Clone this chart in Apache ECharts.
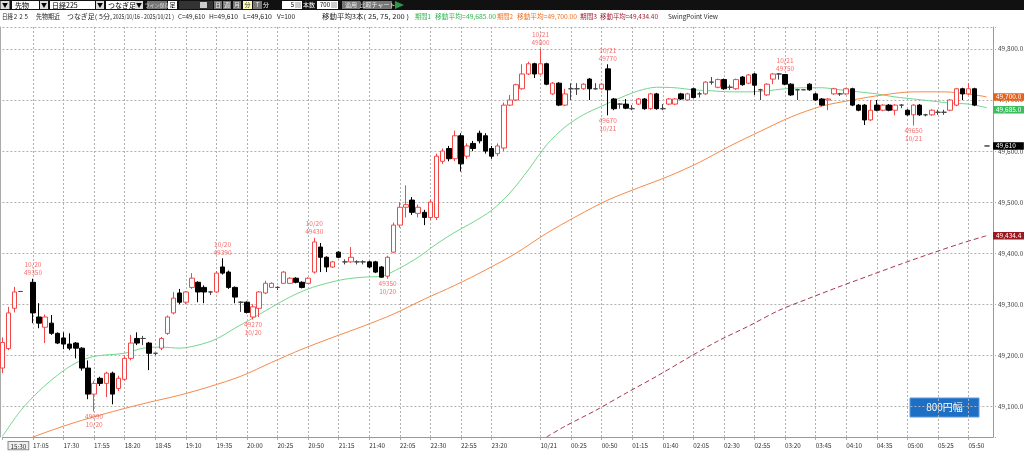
<!DOCTYPE html>
<html><head><meta charset="utf-8">
<script src="https://cdn.jsdelivr.net/npm/echarts@6/dist/echarts.min.js"></script>
<style>html,body{margin:0;padding:0;background:#fff}#c{width:1024px;height:453px}</style>
</head><body><div id="c"></div><script>
// ---------- DATA ----------
const opens = [49175,49213,49292,49325,null,49343,49275,49255,49263,49243,
49234,49222,49224,49214,49175,49124,49155,49145,49165,49135,
49153,49194,49233,49233,49224,49204,49214,49243,49283,49322,
49304,49333,49343,49333,49324,49324,49373,49363,49333,49304,
49304,49275,49292,49322,49333,49333,49341,49341,49351,49343,
49341,49363,49412,49392,49373,49402,49383,49383,49383,49383,
49383,49383,49373,49355,49402,49455,49490,49504,49478,49480,
49470,49470,49580,49605,49585,49630,49590,49615,49635,49630,
49605,49595,49606,49690,49700,49722,49751,49771,49751,49771,
49712,49733,49690,49722,49722,49722,49741,49722,49722,49761,
49702,49692,49692,49683,49692,49702,49683,49712,49683,49692,
49692,49712,49700,49722,49712,49712,49735,49725,49740,49725,
49722,49745,49733,49751,49720,49710,49741,49751,49750,49731,
49720,49720,49731,49712,49702,49700,49712,49712,49712,49722,
49690,49690,49661,49690,49680,49690,49680,49690,49680,49671,
49690,49671,49671,49676,49676,49680,49690,49722,49712,49722,
null,49610,null];
const closes = [49225,49283,49324,49325,null,49283,49263,49275,49243,49224,
49222,49214,49214,49175,49124,49145,49145,49165,49124,49155,
49194,49224,49224,49233,49204,49204,49233,49275,49312,49304,
49324,49351,49324,49324,49324,49361,49361,49333,49314,49304,
49284,49295,49324,49341,49341,49333,49363,49351,49343,49333,
49351,49422,49392,49373,49383,49392,49383,49392,49383,49383,
49373,49363,49353,49392,49455,49490,49495,49480,49490,49470,
49500,49590,49600,49585,49630,49575,49610,49605,49620,49600,
49590,49610,49690,49700,49730,49751,49771,49751,49771,49731,
49733,49690,49712,49722,49722,49731,49722,49722,49731,49720,
49683,49692,49684,49683,49702,49683,49712,49683,49683,49702,
49702,49702,49712,49705,49712,49735,49735,49740,49722,49725,
49740,49730,49749,49729,49720,49731,49751,49751,49731,49710,
49720,49720,49720,49700,49690,49702,49722,49712,49722,49690,
49680,49661,49680,49680,49690,49680,49690,49690,49671,49690,
49671,49671,49680,49676,49676,49700,49722,49712,49722,49690,
null,49610,null];
const lows = [49165,49210,49284,49325,null,49263,49253,49224,49240,49222,
49212,49210,49194,49170,49114,49090,49140,49118,49104,49130,
49150,49190,49220,49220,49171,49200,49210,49240,49280,49300,
49300,49330,49304,49302,49318,49322,49358,49330,49302,49285,
49282,49270,49275,49320,49332,49328,49340,49340,49341,49331,
49340,49360,49363,49363,49371,49390,49378,49381,49378,49378,
49371,49361,49352,49350,49400,49450,49470,49475,49470,49455,
49465,49465,49575,49580,49580,49560,49585,49600,49615,49595,
49585,49590,49600,49688,49698,49720,49749,49743,49750,49729,
49710,49688,49688,49700,49710,49720,49700,49720,49720,49670,
49680,49683,49682,49680,49690,49681,49681,49681,49680,49690,
49690,49700,49698,49703,49705,49710,49730,49723,49720,49720,
49720,49728,49731,49710,49700,49708,49731,49740,49729,49708,
49700,49720,49718,49698,49688,49680,49710,49708,49710,49688,
49678,49651,49659,49678,49678,49678,49670,49684,49669,49650,
49669,49668,49669,49671,49671,49678,49688,49700,49710,49688,
null,49610,null];
const highs = [49235,49295,49334,49325,null,49350,49302,49280,49279,49245,
49245,49243,49226,49216,49190,49150,49158,49168,49168,49160,
49200,49240,49245,49238,49226,49204,49236,49278,49324,49330,
49326,49361,49345,49337,49326,49365,49390,49366,49335,49306,
49306,49300,49326,49346,49343,49335,49365,49353,49353,49345,
49353,49430,49420,49394,49385,49404,49388,49412,49386,49386,
49385,49385,49375,49395,49460,49500,49533,49510,49495,49485,
49505,49595,49605,49610,49640,49635,49615,49620,49640,49635,
49610,49615,49695,49710,49732,49770,49775,49773,49800,49773,
49735,49735,49722,49733,49733,49733,49743,49733,49733,49770,
49704,49694,49702,49690,49704,49704,49714,49714,49692,49704,
49704,49714,49714,49724,49716,49737,49745,49742,49742,49730,
49742,49747,49751,49753,49722,49733,49753,49753,49750,49733,
49722,49720,49733,49714,49704,49704,49724,49714,49724,49724,
49692,49692,49700,49700,49692,49692,49692,49692,49682,49692,
49692,49673,49682,49681,49681,49702,49724,49724,49733,49724,
null,49610,null];

// moving averages: [candle index, value]
const ma25 = [[0,49041],[3,49092],[6,49130],[9,49161],[12,49185],[15,49198],[20,49204],[23,49214],[26,49216],[29,49214],[32,49220],[35,49232],[38,49253],[41,49273],[44,49294],[47,49314],[50,49330],[53,49341],[56,49349],[59,49353],[62,49355],[65,49371],[68,49392],[71,49418],[74,49441],[77,49461],[80,49484],[83,49518],[86,49563],[89,49612],[92,49647],[95,49671],[98,49688],[101,49704],[104,49718],[107,49725],[110,49724],[113,49720],[116,49718],[119,49716],[122,49716],[125,49718],[128,49722],[131,49724],[134,49724],[137,49720],[140,49716],[143,49712],[146,49706],[149,49702],[152,49698],[155,49694],[158,49692],[161,49685]];
const ma75 = [[5,49040],[8,49053],[12,49069],[16,49083],[20,49096],[24,49108],[29,49122],[34,49139],[39,49159],[44,49186],[49,49212],[54,49235],[59,49257],[64,49281],[69,49310],[74,49337],[79,49367],[84,49400],[89,49439],[94,49473],[99,49504],[104,49528],[109,49551],[114,49578],[119,49610],[124,49639],[129,49667],[134,49688],[139,49700],[144,49710],[149,49716],[154,49716],[159,49710],[161,49706]];
const ma200 = [[89,49040],[92,49061],[97,49092],[102,49126],[107,49159],[112,49194],[117,49228],[122,49257],[127,49288],[132,49312],[137,49335],[142,49357],[147,49379],[152,49400],[157,49420],[161,49434.4]];
const maLast = [49685.00, 49700.00, 49434.40];
const lastPrice = 49610;
const lastIdx = 161;

const swingHighs = [[5,49350,'10/20'],[36,49390,'10/20'],[51,49430,'10/20'],[88,49800,'10/21'],[99,49770,'10/21'],[128,49750,'10/21']];
const swingLows = [[15,49090,'10/20'],[41,49270,'10/20'],[63,49350,'10/20'],[99,49670,'10/21'],[149,49650,'10/21']];

const tickIdx = [0,5,10,15,20,25,30,35,40,45,50,55,60,65,70,75,80,88,93,98,103,108,113,118,123,128,133,138,143,148,153,158];
const tickText = ['15:30','17:05','17:30','17:55','18:20','18:45','19:10','19:35','20:00','20:25','20:50','21:15','21:40','22:05','22:30','22:55','23:20','10/21','00:25','00:50','01:15','01:40','02:05','02:30','02:55','03:20','03:45','04:10','04:35','05:00','05:25','05:50'];

// category names (5-minute bars)
const categories = [];
(function(){
  const pad = n => String(n).padStart(2,'0');
  const push = (h,m) => categories.push(pad(h)+':'+pad(m));
  for (let i=0;i<4;i++) push(15,30+5*i);
  for (let i=0;i<84;i++){ const t=17*60+5*i; push(Math.floor(t/60),t%60); }
  for (let i=0;i<75;i++){ const t=5*i; push(Math.floor(t/60),t%60); }
})();

// ---------- CHART ----------
const FONT = '"Noto Sans CJK JP", "Liberation Sans", sans-serif';
const RED = '#f24848';
const fmtY = v => Math.floor(v/1000) + ',' + String(Math.round(v%1000)).padStart(3,'0');
const xData = categories.map((c,i) => i===0 ? {value:c, textStyle:{align:'center'}} : c);
const isTick = i => tickIdx.indexOf(i) >= 0;

const candleData = opens.map((o,i) => o==null ? '-' : [o, closes[i], lows[i], highs[i]]);

function boxLine(val, bg, text, dy){
  return {
    symbol:'none', silent:true, animation:false,
    lineStyle:{color:'rgba(0,0,0,0)', width:1, opacity:1},
    data:[{yAxis:val}],
    label:{show:true, position:'end', distance:0, formatter:text, color:'#fff', opacity:1,
      backgroundColor:bg, fontSize:6.5, fontFamily:FONT, padding:[1,8,0,3], offset:[0,dy]}
  };
}

const chart = echarts.init(document.getElementById('c'), null, {renderer:'canvas'});
const mctx = document.createElement('canvas').getContext('2d');

const tb = [];
function rect(x,y,w,h,fill,stroke){ tb.push({type:'rect',shape:{x,y,width:w,height:h},style:{fill,stroke:stroke||null,lineWidth:1},silent:true}); }
function txt(x,y,t,fill,size,align,fitW){
  const font = (size||6.3)+'px '+FONT;
  let sx = 1;
  if (fitW){ mctx.font = font; const w = mctx.measureText(t).width; if (w>0) sx = Math.max(0.82, Math.min(1.2, fitW/w)); }
  tb.push({type:'text',x,y,scaleX:sx,style:{text:t,fill,font,textAlign:align||'left',textVerticalAlign:'middle'},silent:true});
}

// toolbar
rect(0,0,1024,10,'#111');
rect(0.5,1,9,8,'#ddd'); txt(5,5,'▼','#000',6,'center');
rect(12,1,27,8,'#fff'); txt(15,5,'先物','#000',7);
rect(40,1,8,8,'#ddd'); txt(44,5,'▼','#000',6,'center');
rect(50,1,45,8,'#fff'); txt(52,5,'日経225','#000',7);
rect(96,1,8,8,'#ddd'); txt(100,5,'▼','#000',6,'center');
rect(106,1,29,8,'#fff'); txt(108,5,'つなぎ足','#000',7);
rect(135,1,8,8,'#ddd'); txt(139,5,'▼','#000',6,'center');
rect(147,1,20,8,'#777'); txt(157,5,'ライン保存','#ddd',5,'center');
rect(168,1,9,8,'#fff'); txt(172.5,5,'足','#000',6,'center');
rect(179,1,34,8,'#333'); rect(200,2,7,6,'#ccc');
rect(214,1,8,8,'#777'); txt(218,5,'日','#eee',6,'center');
rect(223,1,8,8,'#777'); txt(227,5,'週','#eee',6,'center');
rect(233,1,8,8,'#777'); txt(237,5,'月','#eee',6,'center');
rect(243,1,9,8,'#fffbb0'); txt(247.5,5,'分','#333',6,'center');
rect(253,1,9,8,'#777'); txt(257.5,5,'T','#eee',6,'center');
txt(266,5,'分','#fff',6,'center');
rect(282,1,20,8,'#fff'); txt(294,5,'5','#000',6,'right'); rect(295,2,6,6,'#ccc');
txt(303,5,'本数','#fff',6);
rect(317,1,21,8,'#fff'); txt(330,5,'700','#000',6,'right'); rect(331,2,6,6,'#ccc');
rect(342,1,18,8,'#777'); txt(351,5,'適用','#eee',6,'center');
rect(363,1,29,8,'#777'); txt(377.5,5,'比較チャート','#eee',6,'center');
tb.push({type:'polygon',shape:{points:[[395,1],[404,5],[395,9]]},style:{fill:'#2a9a4a'},silent:true});

// header line
const HY = 17;
txt(2,HY,'日経２２５','#222',6.3,'left',27);
txt(36,HY,'先物期近','#222',6.3,'left',24);
txt(67,HY,'つなぎ足(','#222',6.3,'left',30);
txt(99,HY,'5分,','#222',6.3,'left',13);
txt(113,HY,'2025/10/16 - 2025/10/21 )','#222',6.3,'left',60);
txt(178,HY,'C=49,610','#222',6.3,'left',27);
txt(209,HY,'H=49,610','#222',6.3,'left',29);
txt(243,HY,'L=49,610','#222',6.3,'left',29);
txt(277,HY,'V=100','#222',6.3,'left',18);
txt(322,HY,'移動平均3本(','#222',6.3,'left',44);
txt(368,HY,'25, 75, 200 )','#222',6.3,'left',41);
txt(415,HY,'期間1','#35b550',6.3,'left',16); txt(435,HY,'移動平均=49,685.00','#35b550',6.3,'left',61);
txt(497,HY,'期間2','#f07020',6.3,'left',16); txt(517,HY,'移動平均=49,700.00','#f07020',6.3,'left',60);
txt(580,HY,'期間3','#a02030',6.3,'left',17); txt(600,HY,'移動平均=49,434.40','#a02030',6.3,'left',58);
txt(668,HY,'SwingPoint View','#333',6.3,'left',50);

// 800円幅 button
tb.push({type:'rect',shape:{x:910,y:398,width:69,height:19},style:{fill:'#1c6fc4',stroke:'#5b9be0',lineWidth:1},silent:true});
txt(944.5,407.5,'800円幅','#fff',10,'center');

const option = {
  animation:false,
  backgroundColor:'#fff',
  grid:{left:2.4, top:27, width:990.6, height:410, containLabel:false, outerBoundsMode:'none'},
  xAxis:{
    type:'category', data:xData, boundaryGap:false,
    axisLine:{lineStyle:{color:'#999'}},
    axisTick:{show:true, interval:(i)=>isTick(i), length:3, lineStyle:{color:'#aaa'}},
    axisLabel:{interval:(i)=>isTick(i), align:'left', fontSize:6.3, color:'#333', fontFamily:FONT, margin:5,
      formatter:(v,i)=>{ const k=tickIdx.indexOf(i); if(k<0) return ''; if(i===0) return '{d|10/20}{t|'+tickText[k]+'}'; return tickText[k]; },
      rich:{d:{width:30, align:'right', padding:[0,2,0,0], fontSize:6.3, color:'#333'},
            t:{fontSize:6.3, color:'#333', borderColor:'#888', borderWidth:1, backgroundColor:'#eee', padding:[1,2,0,2]}}},
    splitLine:{show:true, interval:(i)=>isTick(i)&&i>0, lineStyle:{color:'#b0b0b0', type:[2,2]}}
  },
  yAxis:[{
    type:'value', position:'right', min:49040, max:49843, minInterval:100, maxInterval:100,
    axisLine:{show:true, lineStyle:{color:'#999'}},
    axisTick:{show:true, length:4, lineStyle:{color:'#aaa', type:[1,1]}},
    axisLabel:{fontSize:6.5, color:'#444', fontFamily:FONT, margin:5,
      formatter:v=> (Math.abs(v%100)<0.01 ? fmtY(v)+'.0' : '')},
    splitLine:{show:true, lineStyle:{color:'#b0b0b0', type:[2,2]}}
  },{
    type:'value', position:'left', min:49040, max:49843, offset:2,
    axisLine:{show:true, lineStyle:{color:'#aaa'}}, axisTick:{show:false}, axisLabel:{show:false}, splitLine:{show:false}
  }],
  series:[
    {type:'candlestick', data:candleData, barWidth:5, clip:false, z:3,
      itemStyle:{color:'#fff', color0:'#000', borderColor:RED, borderColor0:'#000', borderColorDoji:'#444', borderWidth:1}},
    {type:'line', data:ma25, showSymbol:false, smooth:0.3, connectNulls:true, z:2, clip:false,
      lineStyle:{color:'#74d68c', width:1}, markLine:boxLine(maLast[0],'#3cbc5c', fmtY(maLast[0])+'.0', 2)},
    {type:'line', data:ma75, showSymbol:false, smooth:0.3, connectNulls:true, z:2, clip:false,
      lineStyle:{color:'#f58a4a', width:1}, markLine:boxLine(maLast[1],'#e8601a', fmtY(maLast[1])+'.0', -3)},
    {type:'line', data:ma200, showSymbol:false, smooth:0.3, connectNulls:true, z:2, clip:false,
      lineStyle:{color:'#a8384c', width:1, type:[5,3]}, markLine:boxLine(maLast[2],'#9c1820', '49,434.4', 0)},
    {type:'line', data:[[lastIdx,lastPrice]], showSymbol:false, z:5, clip:false, lineStyle:{opacity:0},
      markLine:boxLine(lastPrice,'#000', fmtY(lastPrice), 0)},
    {type:'scatter', data:swingHighs.map(d=>[d[0],d[1],d[2]]), symbolSize:0, z:4,
      label:{show:true, position:'top', distance:2, color:RED, fontSize:6.5, fontFamily:FONT, lineHeight:8,
        formatter:p=>p.value[2]+'\n'+p.value[1]}},
    {type:'scatter', data:swingLows.map(d=>[d[0],d[1],d[2]]), symbolSize:0, z:4,
      label:{show:true, position:'bottom', distance:1, color:RED, fontSize:6.5, fontFamily:FONT, lineHeight:8,
        formatter:p=>p.value[1]+'\n'+p.value[2]}}
  ],
  graphic:tb
};
chart.setOption(option);
</script></body></html>
